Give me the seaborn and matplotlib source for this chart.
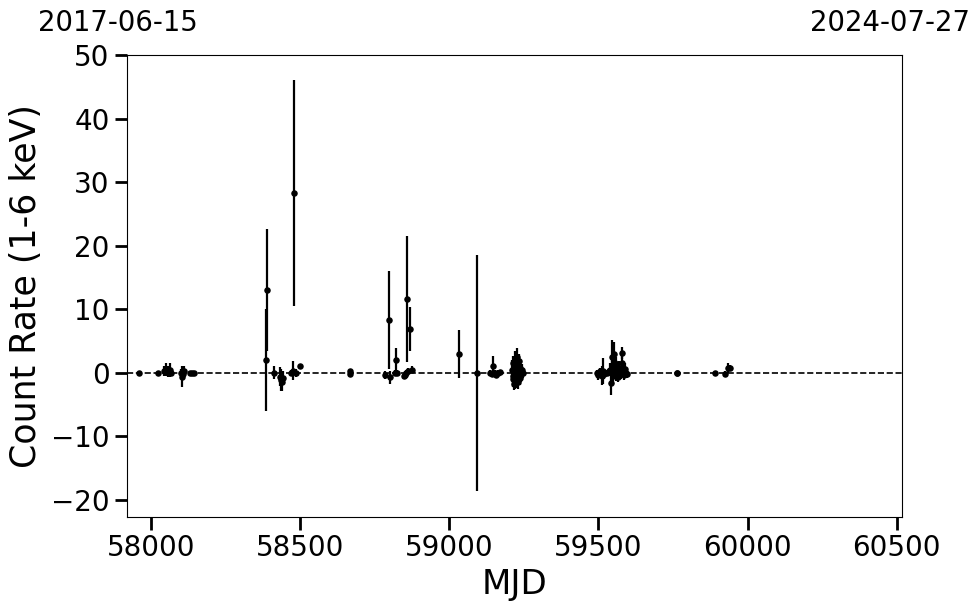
import matplotlib
matplotlib.use("Agg")
import matplotlib.pyplot as plt
import seaborn as sns
import pandas as pd

# Light curve values (MJD, count rate, 1-sigma error)
mjd = [
    57960, 58023, 58043, 58050, 58056, 58062, 58066, 58100, 58103, 58106, 58110, 58130, 58138, 58145,
    58386, 58389, 58411, 58432, 58436, 58440, 58442, 58470, 58476, 58480, 58485, 58499,
    58666, 58668,
    58784, 58799, 58801, 58818, 58822, 58825, 58848, 58852, 58856, 58859, 58862, 58869, 58874,
    59032, 59092,
    59135, 59142, 59148, 59152, 59158, 59163, 59170,
    59210, 59212, 59214, 59215, 59217, 59218, 59219, 59220, 59221, 59222, 59224, 59225, 59226,
    59227, 59228, 59229, 59230, 59232, 59233, 59235, 59236, 59238, 59240, 59243, 59246,
    59495, 59500, 59505, 59512, 59516, 59520, 59528, 59535, 59540, 59543, 59545, 59546, 59548,
    59550, 59552, 59554, 59556, 59558, 59560, 59563, 59566, 59568, 59572, 59575, 59578, 59580,
    59583, 59586, 59590, 59594, 59597,
    59762, 59764, 59891, 59924, 59935, 59941,
]
rate = [
    0.0, 0.0, 0.3, 0.5, 0.2, 0.4, 0.0, 0.0, -0.6, -0.2, 0.3, 0.0, 0.0, 0.0,
    2.0, 13.0, 0.0, -0.6, -1.1, -1.5, -0.8, 0.0, 0.3, 28.3, 0.0, 1.0,
    0.2, -0.2,
    -0.4, 8.3, -0.7, 0.0, 2.0, 0.0, -0.5, -0.3, 0.0, 11.6, 0.2, 6.9, 0.5,
    2.9, 0.0,
    0.0, -0.2, 1.0, 0.0, -0.3, 0.0, 0.1,
    0.5, -1.0, 1.5, -0.5, 0.8, -1.8, 2.0, 0.0, -1.2, 1.2, 0.3, -0.8, 2.4,
    -0.3, 1.0, -1.5, 0.6, -0.5, 1.8, 0.0, -0.9, 0.8, -0.2, 0.4, -0.1,
    0.0, -0.3, 0.2, -0.5, 0.3, -0.2, 0.0, 0.2, 0.5, -1.6, 2.5, 1.0, -0.5,
    0.0, 3.0, 1.5, 0.5, -0.3, 1.2, 0.0, -0.6, 0.8, 0.3, -0.2, 1.5, 3.1,
    0.2, -0.4, 0.6, 0.0, -0.2,
    0.0, 0.0, 0.0, -0.2, 0.7, 0.8,
]
err = [
    0.3, 0.3, 0.8, 1.0, 0.9, 1.1, 0.5, 0.6, 1.6, 0.8, 0.7, 0.3, 0.3, 0.3,
    8.0, 9.6, 1.0, 1.5, 1.7, 1.3, 1.0, 0.5, 1.5, 17.8, 0.6, 0.4,
    0.4, 0.4,
    0.6, 7.7, 1.0, 0.5, 1.9, 0.4, 0.5, 0.5, 0.5, 9.9, 0.6, 3.5, 0.6,
    3.8, 18.6,
    0.4, 0.4, 1.7, 0.5, 0.5, 0.4, 0.4,
    1.5, 1.2, 1.2, 1.5, 1.0, 0.9, 1.5, 1.8, 1.3, 1.4, 2.0, 1.6, 1.5,
    1.2, 1.1, 1.0, 1.3, 1.4, 1.2, 1.6, 1.1, 1.0, 1.2, 0.9, 0.8,
    0.5, 0.8, 0.6, 1.5, 2.0, 0.8, 0.5, 0.6, 1.0, 1.9, 2.6, 1.5, 1.2,
    1.0, 1.8, 1.3, 1.0, 1.0, 1.2, 0.8, 0.9, 1.0, 0.7, 0.8, 1.1, 1.0,
    0.8, 0.7, 0.9, 0.7, 0.6,
    0.3, 0.3, 0.3, 0.4, 0.8, 0.4,
]

start_mjd, start_date = 57919, "2017-06-15"
end_mjd, end_date = 60518, "2024-07-27"

df = pd.DataFrame({"MJD": mjd, "rate": rate, "err": err})

sns.set_context("talk")
sns.set_style("ticks")
plt.rcParams["font.family"] = ["DejaVu Sans"]
plt.rcParams["text.color"] = "black"
plt.rcParams["axes.labelcolor"] = "black"
plt.rcParams["xtick.color"] = "black"
plt.rcParams["ytick.color"] = "black"

fig, ax = plt.subplots(figsize=(9.8, 6.13), dpi=100)
fig.subplots_adjust(left=127 / 980, right=902 / 980, top=1 - 55 / 613, bottom=1 - 517 / 613)

# error bars first, then the points on top
ax.errorbar(df["MJD"], df["rate"], yerr=df["err"], fmt="none", ecolor="black", elinewidth=1.6, capsize=0)
sns.scatterplot(data=df, x="MJD", y="rate", color="black", s=22, edgecolor="black", linewidth=0, ax=ax, zorder=3)

ax.axhline(0, color="black", linestyle="--", linewidth=1.2, zorder=1)

ax.set_xlim(start_mjd, end_mjd)
ax.set_ylim(-22.7, 50)
ax.set_xticks([58000, 58500, 59000, 59500, 60000, 60500])
ax.set_yticks([-20, -10, 0, 10, 20, 30, 40, 50])
ax.tick_params(axis="both", labelsize=20, length=9, width=2)
for sp in ax.spines.values():
    sp.set_linewidth(0.8)
    sp.set_color("black")

ax.set_xlabel("MJD", fontsize=24.5, labelpad=4)
ax.set_ylabel("Count Rate (1-6 keV)", fontsize=25, labelpad=6)

ax.text(-0.0116, 1.069, start_date, transform=ax.transAxes, ha="center", va="center", fontsize=19.8)
ax.text(0.9845, 1.069, end_date, transform=ax.transAxes, ha="center", va="center", fontsize=19.8)

fig.savefig("out.png", dpi=100)
